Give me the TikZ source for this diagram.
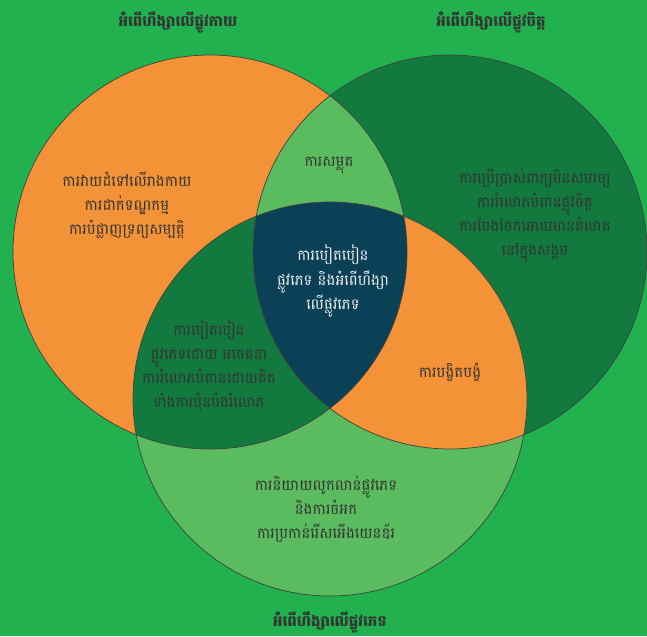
\documentclass[tikz,border=0pt]{standalone}
\usepackage{fontspec}
\newfontfamily\khmer[Script=Khmer]{Battambang}
\usepackage{xcolor}
\definecolor{bggreen}{HTML}{21B24F}
\definecolor{vorange}{HTML}{F39237}
\definecolor{vdark}{HTML}{127A3E}
\definecolor{vlight}{HTML}{5BBC5F}
\definecolor{vnavy}{HTML}{0B4157}
\definecolor{vtext}{HTML}{333333}

\tikzset{
  areatext/.style={font=\khmer\fontsize{8.5}{13.7}\selectfont, text=vtext, align=center},
  titletext/.style={font=\khmer\bfseries\fontsize{8.5}{13.7}\selectfont, text=vtext, align=center},
  rim/.style={draw=black!75, line width=0.4pt}
}

\begin{document}
\begin{tikzpicture}
        % Background
        \fill[bggreen] (0,0) rectangle (12.94,12.72);
        \useasboundingbox (0,0) rectangle (12.94,12.72);

        % Centres of the three sets
        \coordinate (phys) at (4.20,7.68);
        \coordinate (psy) at (9.00,7.68);
        \coordinate (sex) at (6.60,4.74);

        % Fill the sets
        \fill[vorange] (phys) circle (3.94);
        \fill[vdark] (psy) circle (3.94);
        \fill[vlight] (sex) circle (3.94);

        % Fill the overlaps
        \begin{scope}
            \clip (phys) circle (3.94);
            \fill[vlight] (psy) circle (3.94);
            \fill[vdark] (sex) circle (3.94);
        \end{scope}
        \begin{scope}
            \clip (psy) circle (3.94);
            \fill[vorange] (sex) circle (3.94);
            \clip (phys) circle (3.94);
            \fill[vnavy] (sex) circle (3.94);
        \end{scope}

        % Outline the sets
        \draw[rim] (phys) circle (3.94);
        \draw[rim] (psy) circle (3.94);
        \draw[rim] (sex) circle (3.94);

        % Titles
        \node[titletext] (tphys) at (3.56,12.28) {អំពើហឹង្សាលើផ្លូវកាយ};
        \node[titletext] (tpsy) at (9.82,12.28) {អំពើហឹង្សាលើផ្លូវចិត្ត};
        \node[titletext] (tsex) at (6.60,0.28) {អំពើហឹង្សាលើផ្លូវភេទ};

        % Texts in the regions
        \node[areatext] (physonly) at (2.54,8.62) {ការវាយដំទៅលើរាងកាយ\\ការដាក់ទណ្ឌកម្ម\\ការបំផ្លាញទ្រព្យសម្បត្តិ};
        \node[areatext] (physpsy) at (6.58,9.40) {ការសម្លុត};
        \node[areatext] (psyonly) at (10.70,8.40) {ការប្រើប្រាស់ពាក្យមិនសមរម្យ\\ការរំលោភបំពានផ្លូវចិត្ត\\ការបែងចែកអោយមានគំលាត\\នៅក្នុងសង្គម};
        \node[areatext, text=white!93!black] (allthree) at (6.66,7.10) {ការបៀតបៀន\\ផ្លូវភេទ និងអំពើហឹង្សា\\លើផ្លូវភេទ};
        \node[areatext] (physsex) at (4.18,5.40) {ការបៀតបៀន\\ផ្លូវភេទដោយ អចេតនា\\ការរំលោភបំពានដោយគិត\\ទាំងការប៉ុនប៉ងរំលោភ};
        \node[areatext] (psysex) at (9.00,5.28) {ការបង្ខិតបង្ខំ};
        \node[areatext] (sexonly) at (6.52,2.54) {ការនិយាយលូកលាន់ផ្លូវភេទ\\និងការចំអក\\ការប្រកាន់រើសអើងយេនឌ័រ};
    \end{tikzpicture}
\end{document}
